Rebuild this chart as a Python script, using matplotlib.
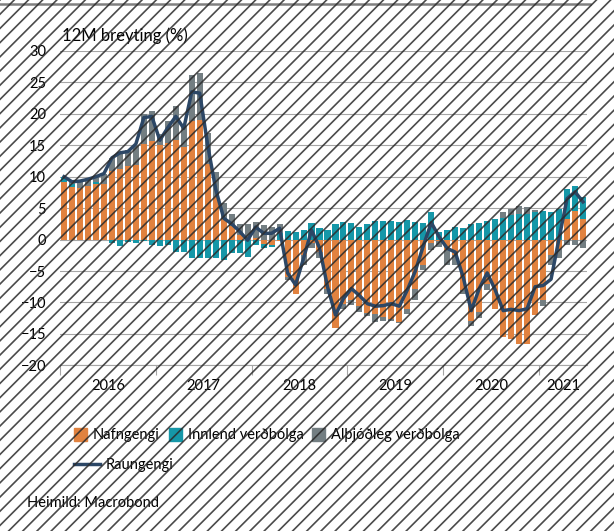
"""
Raungengi krónunnar: 12M breyting og framlag nafngengis, innlendrar og
alþjóðlegrar verðbólgu (mánaðargögn jan 2016 - jún 2021).
"""
import numpy as np
import matplotlib
matplotlib.use("Agg")
import matplotlib.pyplot as plt
from matplotlib.patches import Patch
from matplotlib.lines import Line2D

plt.rcParams["font.family"] = ["Lato", "DejaVu Sans"]

YEARS = ["2016", "2017", "2018", "2019", "2020", "2021"]

# nafngengi (orange)
nafngengi = [9.2, 8.3, 8.2, 8.5, 8.8, 8.9, 10.9, 11.3, 11.7, 11.9, 15.2, 15.7,
             15.0, 15.3, 15.8, 14.8, 18.9, 19.0, 12.0, 6.8, 3.2, 2.2, 0.8, 0.4,
             0.3, -0.7, -0.9, -0.3, -6.0, -8.6, -2.5, -0.5, -2.0, -7.8, -14.0, -10.3,
             -9.6, -10.5, -11.7, -11.8, -12.3, -12.6, -13.1, -11.0, -7.8, -4.1, -0.6, -0.3,
             -1.7, -2.5, -8.0, -13.0, -11.5, -7.0, -11.0, -15.5, -15.8, -16.6, -16.6, -12.0,
             -9.6, -2.5, -1.5, 3.3, 4.5, 3.2]
# innlend verðbólga (teal)
innlend = [0.7, 0.6, 0.0, 0.1, 0.3, 0.0, -0.6, -1.0, -0.4, -0.6, -0.3, -0.8,
           -1.0, -0.9, -1.9, -1.9, -3.0, -3.0, -3.0, -3.0, -3.2, -2.2, -2.2, -2.8,
           -0.9, -0.6, -0.3, 1.0, 1.3, 1.2, 1.5, 2.7, 1.8, 1.5, 2.4, 2.8,
           2.6, 2.0, 2.4, 2.9, 2.9, 2.9, 2.8, 3.1, 2.8, 2.6, 4.4, 1.2,
           1.5, 2.0, 1.8, 2.5, 2.7, 2.9, 3.2, 3.5, 3.9, 4.0, 4.0, 4.4,
           4.6, 4.4, 4.9, 4.8, 4.0, 3.6]
# alþjóðleg verðbólga (grey)
althjodleg = [0.0, 0.2, 1.0, 0.9, 0.9, 1.5, 2.1, 2.7, 2.6, 3.0, 4.8, 4.7,
              1.8, 3.6, 5.5, 3.2, 7.3, 7.5, 5.0, 4.0, 2.6, 1.9, 1.7, 2.1,
              2.5, 2.3, 2.0, 1.4, -0.5, 0.0, -1.5, -0.8, -1.0, -0.8, 0.0, -0.7,
              -0.8, -1.0, -0.5, -1.3, -0.6, -0.4, -0.2, -0.8, -1.8, -0.7, -1.1, -0.9,
              -2.4, -1.5, -0.6, -0.8, -1.0, -1.0, 0.0, 0.9, 1.0, 1.3, 1.2, 0.3,
              -1.0, -1.6, -1.5, -0.9, -0.9, -1.3]
# raungengi (line)
raungengi = [10.0, 9.2, 9.3, 9.6, 10.0, 10.5, 13.0, 13.8, 14.0, 15.2, 19.4, 19.6,
             15.8, 17.8, 19.6, 17.7, 23.5, 23.3, 15.0, 8.0, 3.4, 2.5, 1.3, -0.1,
             2.0, 1.0, 1.0, 1.8, -5.3, -7.2, -3.0, 1.5, -1.3, -7.5, -12.0, -9.4,
             -7.8, -8.9, -10.2, -10.6, -10.5, -10.2, -10.6, -8.0, -5.0, -1.0, 2.7, 0.4,
             -1.4, -2.0, -6.0, -11.3, -7.8, -5.3, -8.0, -11.3, -11.1, -11.3, -11.0, -7.5,
             -7.3, -6.3, 0.2, 6.5, 7.6, 6.0]

C_ORANGE = "#E1823F"
C_TEAL = "#1597A8"
C_GREY = "#737E82"
C_LINE = "#2C4766"

W, H = 614, 531
fig = plt.figure(figsize=(W / 100, H / 100), dpi=100)
ax = fig.add_axes([60 / W, 1 - 365.3 / H, 527 / W, (365.3 - 51) / H])

x = np.arange(len(nafngengi))
pos_bot = np.zeros(len(x))
neg_bot = np.zeros(len(x))
for vals, col in ((nafngengi, C_ORANGE), (innlend, C_TEAL), (althjodleg, C_GREY)):
    v = np.asarray(vals, dtype=float)
    bot = np.where(v >= 0, pos_bot, neg_bot)
    ax.bar(x, v, bottom=bot, width=0.76, color=col, linewidth=0, zorder=2)
    pos_bot += np.clip(v, 0, None)
    neg_bot += np.clip(v, None, 0)

ax.plot(x, raungengi, color=C_LINE, lw=2.5, zorder=3)

ax.set_xlim(-0.5, len(x) - 0.5)
ax.set_ylim(-20, 30)
ax.set_yticks(np.arange(-20, 31, 5))
ax.yaxis.grid(True, color="#A6A6A6", lw=0.8)
ax.set_axisbelow(True)
for s in ("left", "right", "top"):
    ax.spines[s].set_visible(False)
ax.spines["bottom"].set_color("#A6A6A6")
ax.tick_params(axis="y", length=0, labelsize=10.5, pad=10)

# year ticks at year boundaries, labels centred in each year
bounds = np.arange(-0.5, len(x), 12)
ax.set_xticks(bounds)
ax.set_xticklabels([])
ax.tick_params(axis="x", length=7.5, color="#A6A6A6", width=0.8)
centres = [min(b + 6, (b + len(x) - 0.5) / 2) for b in bounds]
for c, lab in zip(centres, YEARS):
    ax.text(c, -0.065, lab, transform=ax.get_xaxis_transform(), ha="center",
            va="center", fontsize=10.5)

fig.text(62 / W, 1 - 36 / H, "12M breyting (%)", fontsize=12, va="center")

handles = [Patch(color=C_ORANGE), Patch(color=C_TEAL), Patch(color=C_GREY)]
fig.legend(handles, ["Nafngengi", "Innlend verðbólga", "Alþjóðleg verðbólga"],
           loc="center left", bbox_to_anchor=(74 / W, 1 - 435 / H), ncol=3,
           frameon=False, fontsize=10.5, handlelength=0.9, handleheight=1.0,
           handletextpad=0.4, columnspacing=0.6, borderaxespad=0, borderpad=0)
fig.legend([Line2D([], [], color=C_LINE, lw=2.5)], ["Raungengi"],
           loc="center left", bbox_to_anchor=(74 / W, 1 - 465 / H),
           frameon=False, fontsize=10.5, handlelength=1.8, handletextpad=0.4,
           borderaxespad=0, borderpad=0)
fig.text(27 / W, 1 - 503 / H, "Heimild: Macrobond", fontsize=10.5, va="center")

# top rule and diagonal hatch overlay
over = fig.add_axes([0, 0, 1, 1], zorder=10)
over.set_xlim(0, W)
over.set_ylim(H, 0)
over.axis("off")
over.plot([0, 590], [4, 4], color="#808080", lw=1.8)
step = 14.2
for x0 in np.arange(-H, W + step, step):
    over.plot([x0, x0 + H], [H, 0], color="#2B2B2B", lw=1.2, alpha=0.85)

fig.savefig("out.png", dpi=100)
